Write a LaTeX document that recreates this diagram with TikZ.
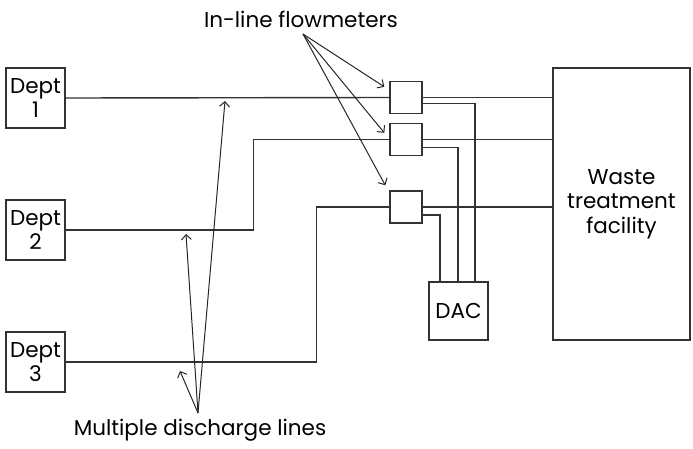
\documentclass[tikz,border=0pt]{standalone}
\usepackage{fontspec}
\setmainfont{Poppins}
\usepackage{tikz}
\usetikzlibrary{arrows.meta, positioning}

\begin{document}
\begin{tikzpicture}[
    x=1pt, y=-1pt,
    line width=1.4pt,
    every node/.style={font=\fontsize{21.5}{24.5}\selectfont, inner sep=0pt},
    deptbox/.style={rectangle, draw=black!80, minimum width=59pt, minimum height=60pt,
                    align=center},
    meterbox/.style={rectangle, draw=black!80, minimum width=32pt, minimum height=32pt},
    pipe/.style={draw=black!80},
    wire/.style={draw=black!80},
    pointer/.style={draw=black!85, line width=1pt, -{Straight Barb[length=5pt, width=10pt]}}
]
\useasboundingbox (0,0) rectangle (693,448);

% departments
\node[deptbox] (dept1) at (35.5,98)  {Dept\\1};
\node[deptbox] (dept2) at (35.5,230) {Dept\\2};
\node[deptbox] (dept3) at (35.5,362) {Dept\\3};

% flowmeters
\node[meterbox] (fm1) at (406,97.5)  {};
\node[meterbox] (fm2) at (406,139.5) {};
\node[meterbox] (fm3) at (406,207)   {};

% facility and logger
\node[deptbox, minimum width=137pt, minimum height=272pt] (waste) at (621.5,204)
    {Waste\\treatment\\facility};
\node[deptbox, minimum height=58pt] (dac) at (458.5,311) {DAC};

% discharge lines
\draw[pipe] (dept1.east) -- (fm1.west);
\draw[pipe] (dept2.east) -- ++(188,0) |- (fm2.west);
\draw[pipe] (dept3.east) -- ++(251,0) |- (fm3.west);
\draw[pipe] (fm1.east) -- (fm1.east -| waste.west);
\draw[pipe] (fm2.east) -- (fm2.east -| waste.west);
\draw[pipe] (fm3.east) -- (fm3.east -| waste.west);

% signal wires to the DAC
\draw[wire] ([yshift=-6pt]fm1.east) -| ([xshift=16.5pt]dac.north);
\draw[wire] ([yshift=-8pt]fm2.east) -| ([xshift=-0.5pt]dac.north);
\draw[wire] ([yshift=-8pt]fm3.east) -| ([xshift=-18.5pt]dac.north);

% callouts
\node (meterlabel) at (301,19) {In-line flowmeters};
\coordinate (meterhub) at (303,34);
\draw[pointer] (meterhub) -- ([shift={(-5,6)}]fm1.north west);
\draw[pointer] (meterhub) -- ([shift={(-5,10)}]fm2.north west);
\draw[pointer] (meterhub) -- ([shift={(-4,-5)}]fm3.north west);

\node (linelabel) at (200,430) {Multiple discharge lines};
\coordinate (linehub) at (198,413);
\coordinate (tip1) at (225,101);
\coordinate (tip2) at (186,234);
\coordinate (tip3) at (180,371);
\draw[pointer] (linehub) -- (tip1);
\draw[pointer] (linehub) -- (tip2);
\draw[pointer] (linehub) -- (tip3);

\end{tikzpicture}
\end{document}
